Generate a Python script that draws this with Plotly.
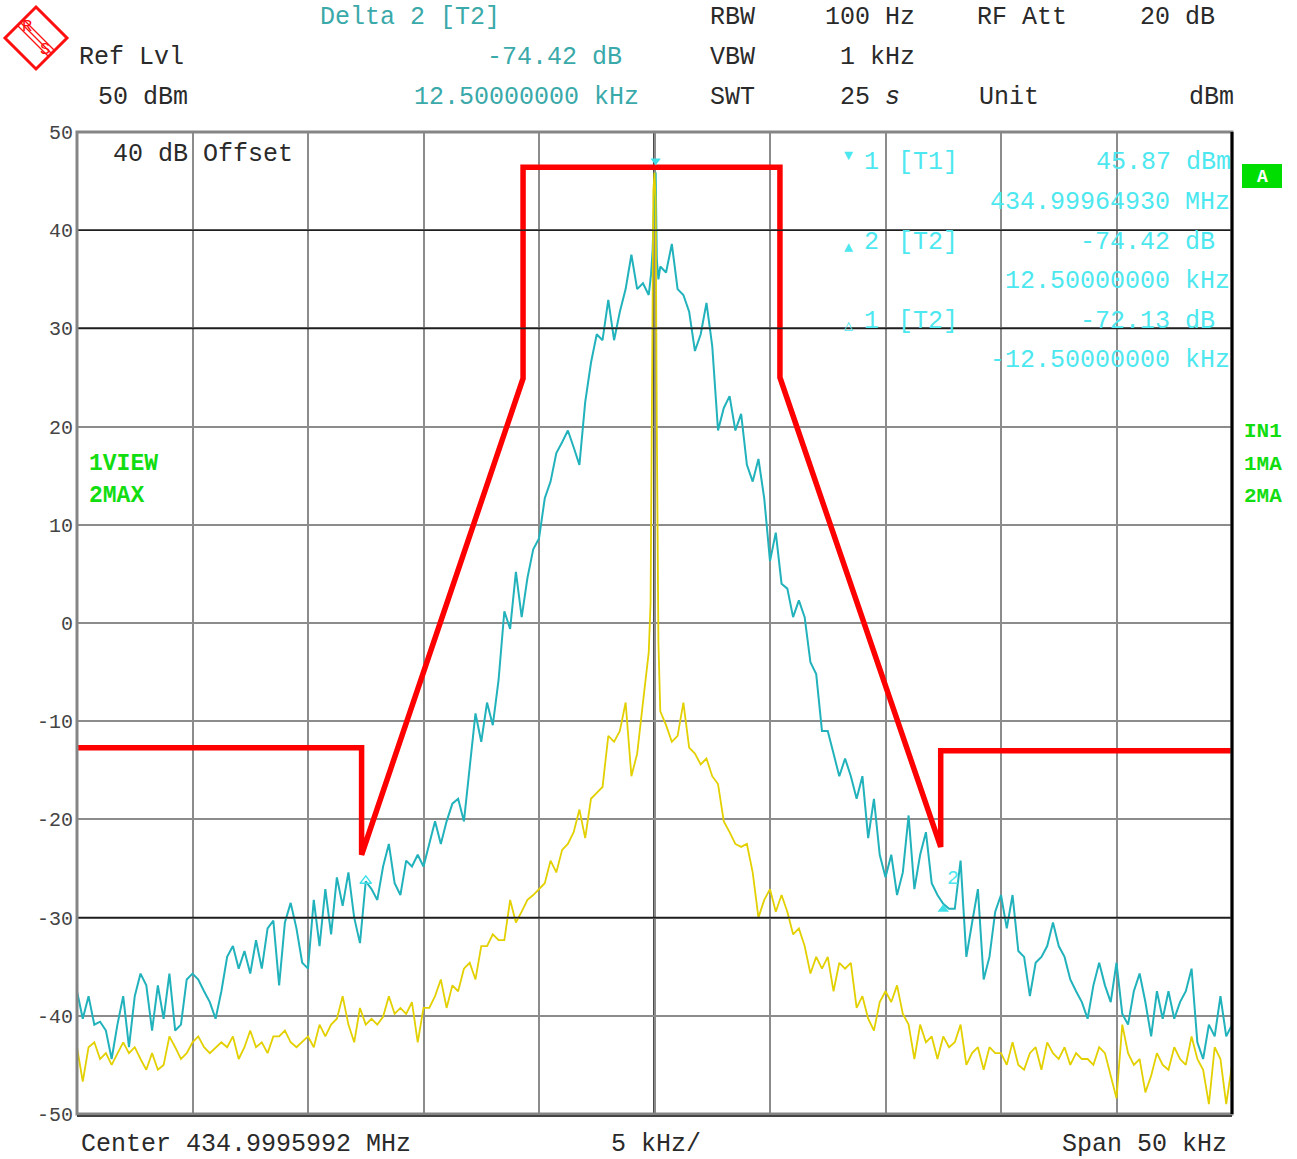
import numpy as np
import plotly.graph_objects as go

# ---------------- data (frequency offset from centre in kHz, level in dBm) -------------
freq_left = np.linspace(-25, -0.25, 100)
freq_right = np.linspace(0.25, 25, 100)

# trace 2 (MAX hold, cyan)
max_left = [-37.5, -40.3, -38.0, -40.9, -40.6, -41.5, -44.4, -40.9, -38.0, -43.2,
            -38.0, -35.7, -36.9, -41.5, -36.9, -40.3, -35.7, -41.5, -40.9, -36.3,
            -35.7, -36.3, -37.5, -38.6, -40.3, -37.5, -34.0, -32.9, -35.2, -33.4,
            -35.7, -32.3, -35.2, -31.1, -30.3, -36.9, -30.5, -28.5, -31.1, -34.6,
            -35.2, -28.2, -32.9, -27.1, -31.7, -25.9, -28.8, -25.4, -30.0, -32.6,
            -26.3, -27.1, -28.2, -24.8, -22.5, -26.5, -27.7, -24.2, -24.8, -23.6,
            -24.8, -22.5, -20.2, -22.5, -20.2, -18.4, -17.9, -20.2, -14.4, -9.2,
            -12.1, -8.1, -10.4, -5.8, 1.2, -0.6, 5.2, 0.6, 4.6, 7.5,
            8.6, 12.7, 14.4, 17.3, 18.4, 19.6, 17.9, 16.1, 22.5, 26.5,
            29.4, 28.8, 32.9, 28.8, 31.7, 34.0, 37.5, 34.0, 34.6, 33.4]
max_centre_f = [-0.15, -0.08, 0.0, 0.05, 0.1, 0.17]
max_centre = [35.5, 38.0, 44.0, 45.9, 37.0, 35.0]
max_right = [36.3, 35.7, 38.6, 34.0, 33.4, 31.7, 27.7, 29.4, 32.6, 28.2,
             19.6, 21.9, 23.1, 19.6, 21.3, 16.1, 14.4, 16.7, 12.7, 6.3,
             9.2, 4.0, 3.5, 0.6, 2.3, 0.6, -4.0, -5.2, -11.0, -11.0,
             -13.3, -15.6, -13.8, -15.6, -17.9, -15.6, -21.9, -17.9, -23.6, -25.9,
             -23.6, -27.7, -25.4, -19.6, -27.1, -23.6, -21.3, -26.5, -27.7, -28.6,
             -29.1, -29.1, -24.2, -34.0, -30.5, -27.1, -36.3, -34.0, -29.4, -27.7,
             -31.1, -27.7, -33.4, -34.0, -38.0, -34.6, -34.0, -32.9, -30.5, -32.9,
             -34.0, -36.3, -37.5, -38.6, -40.3, -36.9, -34.6, -36.9, -38.6, -34.6,
             -39.8, -40.9, -37.5, -35.7, -38.6, -42.1, -37.5, -40.3, -37.5, -40.3,
             -38.6, -37.5, -35.2, -42.7, -44.4, -40.9, -42.1, -38.0, -42.1, -40.9]

# trace 1 (VIEW, yellow)
view_left = [-43.2, -46.7, -43.2, -42.7, -44.4, -43.8, -45.0, -43.8, -42.7, -43.8,
             -43.2, -44.4, -45.5, -43.8, -45.5, -45.0, -42.1, -43.2, -44.4, -43.8,
             -42.7, -42.1, -43.2, -43.8, -43.2, -42.7, -43.2, -42.1, -44.4, -43.2,
             -41.5, -43.2, -42.7, -43.8, -42.1, -42.1, -41.5, -42.7, -43.2, -42.7,
             -42.1, -43.2, -40.9, -42.1, -40.9, -40.3, -38.0, -40.9, -42.7, -39.2,
             -40.9, -40.3, -40.9, -40.1, -38.0, -39.8, -39.2, -39.8, -38.6, -42.7,
             -39.2, -39.2, -38.0, -36.3, -39.2, -36.9, -37.5, -35.2, -34.6, -36.3,
             -32.9, -32.9, -31.7, -32.3, -32.3, -28.2, -30.5, -29.4, -28.2, -27.7,
             -27.1, -26.5, -24.2, -25.4, -23.1, -22.5, -21.3, -19.0, -21.9, -17.9,
             -17.3, -16.7, -11.5, -12.1, -11.0, -8.1, -15.6, -13.3, -8.1, -3.0]
view_centre_f = [-0.17, -0.1, -0.05, 0.0, 0.05, 0.1, 0.17]
view_centre = [2.0, 25.0, 44.0, 45.87, 43.0, 20.0, -2.0]
view_right = [-9.0, -10.4, -12.1, -11.5, -8.1, -12.7, -13.3, -14.4, -13.8, -15.6,
              -16.4, -20.2, -21.3, -22.5, -22.8, -22.5, -25.4, -30.0, -28.2, -27.1,
              -29.4, -27.7, -29.4, -31.7, -31.1, -32.9, -35.7, -34.0, -35.2, -34.0,
              -37.5, -34.6, -35.2, -34.6, -39.2, -38.0, -40.3, -41.5, -38.6, -37.5,
              -38.6, -36.9, -39.8, -40.9, -44.4, -40.9, -42.7, -42.1, -44.4, -42.1,
              -43.2, -42.7, -40.9, -45.0, -43.8, -43.2, -45.5, -43.2, -43.8, -43.8,
              -45.0, -42.7, -45.0, -45.5, -43.8, -43.2, -45.5, -42.7, -43.8, -44.4,
              -43.2, -45.0, -43.8, -44.4, -44.4, -45.0, -43.2, -43.8, -46.1, -48.4,
              -40.9, -43.8, -45.0, -44.4, -47.8, -46.1, -43.8, -45.0, -45.5, -43.2,
              -44.4, -45.0, -42.1, -44.4, -45.5, -49.0, -43.2, -44.4, -49.0, -45.0]

# limit line (mask)
mask_f = [-25, -12.68, -12.68, -5.69, -5.69, 5.43, 5.43, 12.39, 12.39, 25]
mask_db = [-12.7, -12.7, -23.6, 24.9, 46.4, 46.4, 25.0, -22.8, -13.0, -13.0]

# markers
m1_f, m1_db = 0.05, 45.87
d2_f, d2_db = 12.5, 45.87 - 74.42
d1_f, d1_db = -12.5, 45.87 - 72.13

y_ticks = [50, 40, 30, 20, 10, 0, -10, -20, -30, -40, -50]

# ---------------- figure ---------------------------------------------------------------
FONT = "Liberation Mono, Courier New, monospace"
L, R, T, B = 77, 1232, 132, 1114
W, H = 1297, 1159


def px(x):
    return (x - L) / (R - L)


def py(y):
    return (B - y) / (B - T)


max_f = list(freq_left) + max_centre_f + list(freq_right)
max_v = max_left + max_centre + max_right
view_f = list(freq_left) + view_centre_f + list(freq_right)
view_v = view_left + view_centre + view_right

fig = go.Figure()
fig.add_trace(go.Scatter(x=max_f, y=max_v, mode="lines",
                         line=dict(color="#21b2bc", width=2), hoverinfo="skip"))
fig.add_trace(go.Scatter(x=view_f, y=view_v, mode="lines",
                         line=dict(color="#e3d000", width=1.8), hoverinfo="skip"))
fig.add_trace(go.Scatter(x=mask_f, y=mask_db, mode="lines",
                         line=dict(color="#ff0000", width=5.5), hoverinfo="skip"))
# marker symbols
fig.add_trace(go.Scatter(x=[m1_f], y=[m1_db + 1.2], mode="markers",
                         marker=dict(symbol="triangle-down", size=9, color="#3fe0e8")))
fig.add_trace(go.Scatter(x=[d2_f], y=[d2_db - 0.6], mode="markers",
                         marker=dict(symbol="triangle-up", size=10, color="#3fe0e8")))
fig.add_trace(go.Scatter(x=[d1_f], y=[d1_db], mode="markers",
                         marker=dict(symbol="triangle-up-open", size=10, color="#3fe0e8",
                                     line=dict(width=1.5))))

shapes = []
# darker display lines
for yv in (40, 30, -30):
    shapes.append(dict(type="line", xref="paper", x0=0, x1=1, yref="y", y0=yv, y1=yv,
                       line=dict(color="#1e1e1e", width=1.6), layer="above"))
shapes.append(dict(type="line", xref="x", x0=0, x1=0, yref="paper", y0=0, y1=1,
                   line=dict(color="#111111", width=2.5), layer="below"))
# frame
shapes.append(dict(type="rect", xref="paper", yref="paper", x0=0, x1=1, y0=0, y1=1,
                   line=dict(color="#858585", width=3)))
shapes.append(dict(type="line", xref="paper", yref="paper", x0=1, x1=1, y0=0, y1=1,
                   line=dict(color="#000000", width=3)))
shapes.append(dict(type="line", xref="paper", yref="paper", x0=0, x1=1, y0=py(1116), y1=py(1116),
                   line=dict(color="#444444", width=2)))
# R&S logo
cx0, cy0, rr = 36, 38, 31
shapes.append(dict(type="path", xref="paper", yref="paper",
                   path=f"M {px(cx0)} {py(cy0-rr)} L {px(cx0+rr)} {py(cy0)} L {px(cx0)} {py(cy0+rr)} L {px(cx0-rr)} {py(cy0)} Z",
                   line=dict(color="#ff1010", width=3)))
for k in (-3, 0, 3):
    shapes.append(dict(type="line", xref="paper", yref="paper",
                       x0=px(cx0 - 16 + k), y0=py(cy0 - 16 - k), x1=px(cx0 + 16 + k), y1=py(cy0 + 16 - k),
                       line=dict(color="#ff1010", width=1.2)))
# green "A" box
shapes.append(dict(type="rect", xref="paper", yref="paper", x0=px(1242), x1=px(1282),
                   y0=py(188), y1=py(164), fillcolor="#00dd00", line=dict(width=0)))
fig.update_layout(shapes=shapes)

anns = []


def ann(text, x, y, color="#2a2a2a", size=25, anchor="left", bold=False):
    anns.append(dict(text=f"<b>{text}</b>" if bold else text, x=px(x), y=py(y),
                     xref="paper", yref="paper", showarrow=False, xanchor=anchor,
                     yanchor="middle", font=dict(family=FONT, size=size, color=color)))


TEAL = "#3aa9a9"
CY = "#4de8ef"
ann("Delta 2 [T2]", 318, 17, TEAL)
ann("RBW", 708, 17)
ann("100 Hz", 823, 17)
ann("RF Att", 975, 17)
ann("20 dB", 1138, 17)
ann("Ref Lvl", 77, 57)
ann("-74.42 dB", 624, 57, TEAL, anchor="right")
ann("VBW", 708, 57)
ann("1 kHz", 917, 57, anchor="right")
ann("50 dBm", 190, 97, anchor="right")
ann("12.50000000 kHz", 641, 97, TEAL, anchor="right")
ann("SWT", 708, 97)
ann("25 <i>s</i>", 838, 97)
ann("Unit", 977, 97)
ann("dBm", 1236, 97, anchor="right")

ann("40 dB Offset", 111, 155)
ann("1", 862, 162, CY)
ann("[T1]", 896, 162, CY)
ann("45.87 dBm", 1233, 162, CY, anchor="right")
ann("434.99964930 MHz", 1232, 202, CY, anchor="right")
ann("2", 862, 242, CY)
ann("[T2]", 896, 242, CY)
ann("-74.42 dB", 1217, 242, CY, anchor="right")
ann("12.50000000 kHz", 1232, 281, CY, anchor="right")
ann("1", 862, 321, CY)
ann("[T2]", 896, 321, CY)
ann("-72.13 dB", 1217, 321, CY, anchor="right")
ann("-12.50000000 kHz", 1232, 360, CY, anchor="right")
ann("▼", 842, 156, CY, size=15)
ann("▲", 842, 248, CY, size=15)
ann("△", 842, 326, CY, size=15)
ann("2", 945, 878, CY, size=20)

ann("1VIEW", 87, 464, "#11dd11", size=23, bold=True)
ann("2MAX", 87, 496, "#11dd11", size=23, bold=True)
ann("IN1", 1242, 432, "#11dd11", size=21, bold=True)
ann("1MA", 1242, 464, "#11dd11", size=21, bold=True)
ann("2MA", 1242, 496, "#11dd11", size=21, bold=True)
ann("A", 1262, 177, "#ffffff", size=18, anchor="center", bold=True)

ann("Center 434.9995992 MHz", 79, 1144)
ann("5 kHz/", 609, 1144)
ann("Span 50 kHz", 1229, 1144, anchor="right")

ann("R", 27, 27, "#ff1010", size=17, anchor="center")
ann("S", 45, 50, "#ff1010", size=17, anchor="center")

fig.update_layout(
    annotations=anns,
    width=W, height=H, autosize=False,
    margin=dict(l=L, r=W - R, t=T, b=H - B, pad=0),
    paper_bgcolor="white", plot_bgcolor="white",
    showlegend=False,
    xaxis=dict(range=[-25, 25], tick0=-25, dtick=5, showgrid=True, gridcolor="#8c8c8c",
               gridwidth=1.5, zeroline=False, showline=False, showticklabels=False,
               ticks="", fixedrange=True),
    yaxis=dict(range=[-50, 50], tickvals=y_ticks, ticktext=[str(v) for v in y_ticks],
               showgrid=True, gridcolor="#8c8c8c", gridwidth=1.5, zeroline=False,
               showline=False, ticks="", ticklabelstandoff=3,
               tickfont=dict(family=FONT, size=20, color="#444444"), fixedrange=True),
)

fig.write_html("out.html", config={"displayModeBar": False},
               post_script="document.body.style.margin='0px';document.body.style.overflow='hidden';")
